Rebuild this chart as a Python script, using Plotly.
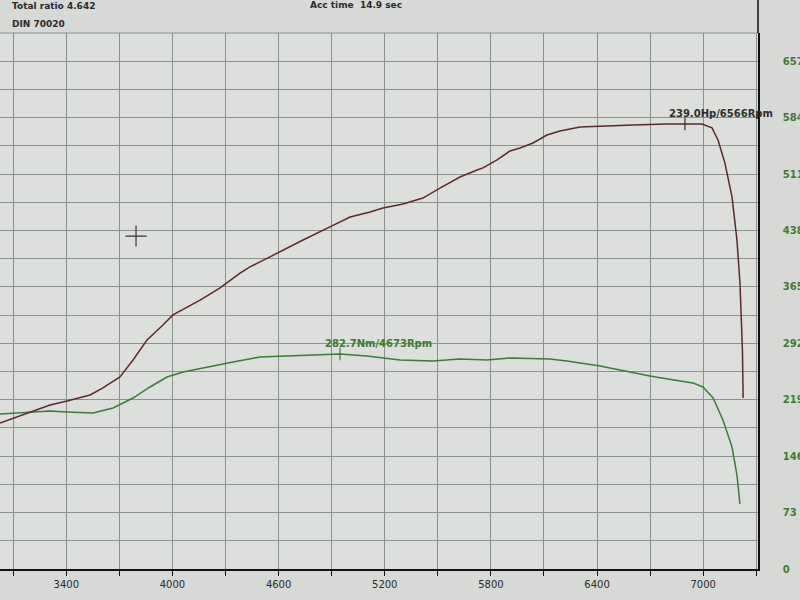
import plotly.graph_objects as go

# power curve (Hp)
power_rpm = [3025, 3195, 3308, 3404, 3534, 3607, 3703, 3777, 3856, 3946, 4003, 4156, 4269,
             4382, 4438, 4495, 4591, 4738, 4890, 5004, 5117, 5190, 5303, 5416, 5512, 5625,
             5722, 5755, 5835, 5908, 5965, 6038, 6117, 6191, 6304, 6417, 6603, 6796, 6897,
             6993, 7050, 7084, 7123, 7163, 7191, 7208, 7222, 7226]
power_hp = [78.4, 84.4, 88.1, 90.3, 93.5, 97.3, 103.2, 112.3, 123.0, 131.1, 136.5, 144.5, 151.0,
            159.0, 162.3, 165.0, 169.8, 176.8, 183.8, 189.1, 191.8, 194.0, 196.1, 199.3, 204.7,
            210.6, 214.4, 215.5, 219.8, 224.6, 226.2, 228.9, 233.2, 235.3, 237.5, 238.0, 238.6,
            239.1, 239.1, 239.1, 237.0, 230.5, 218.1, 199.9, 176.8, 153.7, 117.7, 91.9]

# torque curve (Nm)
torque_rpm = [3025, 3195, 3308, 3404, 3551, 3664, 3777, 3873, 3969, 4060, 4195, 4342, 4495,
              4625, 4817, 4947, 5100, 5286, 5473, 5625, 5778, 5908, 6134, 6230, 6417, 6699,
              6869, 6943, 6999, 7056, 7112, 7163, 7191, 7208]
torque_nm = [200.5, 203.1, 204.4, 203.1, 201.8, 208.3, 221.2, 235.5, 248.4, 254.9, 261.3, 267.8,
             274.3, 275.6, 276.9, 278.2, 275.6, 270.4, 269.1, 271.7, 270.4, 273.0, 271.7, 269.1,
             262.6, 249.7, 243.2, 240.6, 235.5, 221.2, 192.8, 157.8, 121.6, 84.1]

# peak markers as drawn on screen, and their labels
power_peak_rpm = [6897]
power_peak_hp = [239.1]
power_peak_text = "239.0Hp/6566Rpm"
torque_peak_rpm = [4947]
torque_peak_nm = [278.2]
torque_peak_text = "282.7Nm/4673Rpm"

# cursor cross
cursor_rpm = [3794]
cursor_nm = [430.8]

rpm_ticks = [3400, 4000, 4600, 5200, 5800, 6400, 7000]
nm_ticks = [0, 73, 146, 219, 292, 365, 438, 511, 584, 657]

maroon = "#5a2a32"
green = "#3e7b3a"
label_green = "#3f7a35"
grid = "#8c9190"

fig = go.Figure()
fig.add_trace(go.Scatter(x=torque_rpm, y=torque_nm, mode="lines", yaxis="y",
                         line=dict(color=green, width=1.5), hoverinfo="skip"))
fig.add_trace(go.Scatter(x=power_rpm, y=power_hp, mode="lines", yaxis="y2",
                         line=dict(color=maroon, width=1.5), hoverinfo="skip"))
fig.add_trace(go.Scatter(x=torque_peak_rpm, y=torque_peak_nm, mode="markers", yaxis="y",
                         marker=dict(symbol="line-ns", size=9, line=dict(color=green, width=1.2))))
fig.add_trace(go.Scatter(x=power_peak_rpm, y=power_peak_hp, mode="markers", yaxis="y2",
                         marker=dict(symbol="line-ns", size=9, line=dict(color="#333333", width=1.2))))
fig.add_trace(go.Scatter(x=cursor_rpm, y=cursor_nm, mode="markers", yaxis="y",
                         marker=dict(symbol="cross-thin", size=15, line=dict(color="#333333", width=1.2))))

fig.add_annotation(x=power_peak_rpm[0], y=power_peak_hp[0], xref="x", yref="y2",
                   text=power_peak_text, showarrow=False, xanchor="left", yanchor="bottom",
                   xshift=-18, yshift=3, font=dict(family="DejaVu Sans", size=10, color="#2e2e2e", weight="bold"))
fig.add_annotation(x=torque_peak_rpm[0], y=torque_peak_nm[0], xref="x", yref="y",
                   text=torque_peak_text, showarrow=False, xanchor="left", yanchor="bottom",
                   xshift=-17, yshift=3, font=dict(family="DejaVu Sans", size=10, color=label_green, weight="bold"))

head_font = dict(family="DejaVu Sans", size=9, color="#2a2a2a", weight="bold")
fig.add_annotation(x=0.013, y=1.050, xref="paper", yref="paper", text="Total ratio 4.642",
                   showarrow=False, xanchor="left", yanchor="middle", font=head_font)
fig.add_annotation(x=0.013, y=1.017, xref="paper", yref="paper", text="DIN 70020",
                   showarrow=False, xanchor="left", yanchor="middle", font=head_font)
fig.add_annotation(x=0.406, y=1.052, xref="paper", yref="paper", text="Acc time\u00a0 14.9 sec",
                   showarrow=False, xanchor="left", yanchor="middle", font=head_font)

# top border and the right axis running up past the plot
fig.add_shape(type="line", xref="paper", yref="paper", x0=0, x1=1, y0=1, y1=1,
              line=dict(color=grid, width=1))
fig.add_shape(type="line", xref="paper", yref="paper", x0=1, x1=1, y0=1, y1=1.07,
              line=dict(color="#111111", width=1.5))

fig.update_layout(
    width=800, height=600,
    margin=dict(l=0, r=42, t=33, b=31),
    paper_bgcolor="#d6d9d5",
    plot_bgcolor="#dcdfdb",
    showlegend=False,
    xaxis=dict(range=[3025, 7310], tickvals=rpm_ticks, showgrid=True, gridcolor=grid, gridwidth=1,
               ticks="outside", ticklen=5, tickcolor="#111111",
               minor=dict(dtick=300, tick0=3100, showgrid=True, gridcolor=grid, gridwidth=1,
                          ticks="outside", ticklen=5, tickcolor="#111111"),
               showline=True, linecolor="#111111", linewidth=1.5, zeroline=False, automargin=False,
               tickfont=dict(family="DejaVu Sans", size=10, color="#2b2b2b")),
    yaxis=dict(range=[0, 693.5], side="right", tickvals=nm_ticks, showgrid=True, gridcolor=grid,
               gridwidth=1, minor=dict(dtick=36.5, tick0=0, showgrid=True, gridcolor=grid, gridwidth=1),
               showline=True, linecolor="#111111", linewidth=1.5, zeroline=False, automargin=False,
               ticks="", ticklabelstandoff=21,
               tickfont=dict(family="DejaVu Sans", size=10, color=label_green, weight="bold")),
    yaxis2=dict(range=[0, 288], overlaying="y", side="left", visible=False),
)

# the page's default body margin would push the chart 8px in; the screen photo starts at the edge
fig.write_html("out.html", config={"displayModeBar": False},
               post_script="document.body.style.margin = '0px';")
